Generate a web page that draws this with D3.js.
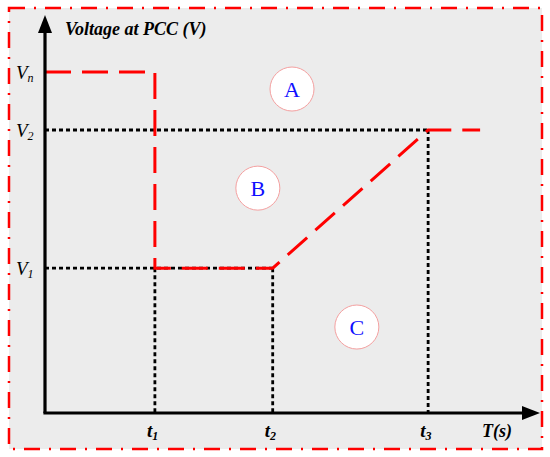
<!DOCTYPE html>
<html>
<head>
<meta charset="utf-8">
<script src="https://cdn.jsdelivr.net/npm/d3@7"></script>
<style>
  html, body { margin: 0; padding: 0; background: #fff; }
  svg { display: block; }
</style>
</head>
<body>
<svg id="chart" width="550" height="457"></svg>
<script>
// voltage levels (arbitrary units, 0..100 of the y axis)
const vNames = ["n", "2", "1"];
const vValues = [85.7, 71.1, 36.4];

// time marks (arbitrary units, 0..100 of the x axis)
const tNames = ["1", "2", "3"];
const tValues = [22.2, 46.0, 77.4];

// voltage limit curve
const curveT = [0, 22.2, 22.2, 46.0, 77.4, 87.9];
const curveV = [85.7, 85.7, 36.4, 36.4, 71.1, 71.1];

// region markers
const regionNames = ["A", "B", "C"];
const regionT = [49.9, 43.0, 63.0];
const regionV = [81.4, 56.5, 21.6];

const svg = d3.select("#chart");
const x = d3.scaleLinear().domain([0, 100]).range([45, 540]);
const y = d3.scaleLinear().domain([0, 100]).range([413, 15]);

// frame
svg.append("rect")
  .attr("x", 9).attr("y", 8).attr("width", 533).attr("height", 441)
  .attr("fill", "#ececec")
  .attr("stroke", "#ff0000")
  .attr("stroke-width", 2.5)
  .attr("stroke-dasharray", "16,9,2,9");

// dotted guide lines
const guides = [
  { x1: 0, y1: vValues[1], x2: tValues[2], y2: vValues[1] },
  { x1: 0, y1: vValues[2], x2: tValues[1], y2: vValues[2] },
  { x1: tValues[0], y1: vValues[2], x2: tValues[0], y2: 0 },
  { x1: tValues[1], y1: vValues[2], x2: tValues[1], y2: 0 },
  { x1: tValues[2], y1: vValues[1], x2: tValues[2], y2: 0 }
];
svg.append("g")
  .selectAll("line")
  .data(guides)
  .enter()
  .append("line")
  .attr("x1", function(d){ return x(d.x1); })
  .attr("y1", function(d){ return y(d.y1); })
  .attr("x2", function(d){ return x(d.x2); })
  .attr("y2", function(d){ return y(d.y2); })
  .attr("stroke", "#000")
  .attr("stroke-width", 2.8)
  .attr("stroke-dasharray", "4,3");

// limit curve
const curve = curveT.map(function(t, i){ return [t, curveV[i]]; });
svg.append("path")
  .datum(curve)
  .attr("d", d3.line().x(function(d){ return x(d[0]); }).y(function(d){ return y(d[1]); }))
  .attr("fill", "none")
  .attr("stroke", "#ff0000")
  .attr("stroke-width", 3)
  .attr("stroke-dasharray", "26,11");

// axes
svg.append("line")
  .attr("x1", x(0)).attr("y1", y(0)).attr("x2", x(0)).attr("y2", y(100) + 14)
  .attr("stroke", "#000").attr("stroke-width", 3.2);
svg.append("line")
  .attr("x1", x(0) - 1.6).attr("y1", y(0)).attr("x2", x(100) - 14).attr("y2", y(0))
  .attr("stroke", "#000").attr("stroke-width", 3.2);
svg.append("path")
  .attr("d", "M" + x(0) + "," + y(100) + "l-7,18h14z")
  .attr("fill", "#000");
svg.append("path")
  .attr("d", "M" + x(100) + "," + y(0) + "l-18,-7v14z")
  .attr("fill", "#000");

// axis titles
svg.append("text")
  .attr("x", 65).attr("y", 35)
  .attr("font-family", "Liberation Serif, serif")
  .attr("font-size", 18).attr("font-weight", "bold").attr("font-style", "italic")
  .text("Voltage at PCC (V)");
svg.append("text")
  .attr("x", 482).attr("y", 437)
  .attr("font-family", "Liberation Serif, serif")
  .attr("font-size", 18).attr("font-weight", "bold").attr("font-style", "italic")
  .text("T(s)");

// voltage labels
const vLab = svg.append("g")
  .selectAll("text")
  .data(vValues)
  .enter()
  .append("text")
  .attr("x", 16)
  .attr("y", function(d){ return y(d) + 7; })
  .attr("font-family", "Liberation Serif, serif")
  .attr("font-size", 19).attr("font-style", "italic");
vLab.append("tspan").text("V");
vLab.append("tspan")
  .attr("font-size", 12).attr("dy", 3)
  .text(function(d, i){ return vNames[i]; });

// time labels
const tLab = svg.append("g")
  .selectAll("text")
  .data(tValues)
  .enter()
  .append("text")
  .attr("x", function(d){ return x(d) - 8; })
  .attr("y", 437)
  .attr("font-family", "Liberation Serif, serif")
  .attr("font-size", 19).attr("font-weight", "bold").attr("font-style", "italic");
tLab.append("tspan").text("t");
tLab.append("tspan")
  .attr("font-size", 12).attr("dy", 3)
  .text(function(d, i){ return tNames[i]; });

// region circles
const reg = svg.append("g")
  .selectAll("g")
  .data(regionNames)
  .enter()
  .append("g")
  .attr("transform", function(d, i){ return "translate(" + x(regionT[i]) + "," + y(regionV[i]) + ")"; });
reg.append("circle")
  .attr("r", 22)
  .attr("fill", "#fff")
  .attr("stroke", "#f4a0a0")
  .attr("stroke-width", 1);
reg.append("text")
  .attr("text-anchor", "middle")
  .attr("y", 8)
  .attr("font-family", "Liberation Serif, serif")
  .attr("font-size", 22)
  .attr("fill", "#1010ff")
  .text(function(d){ return d; });
</script>
</body>
</html>
